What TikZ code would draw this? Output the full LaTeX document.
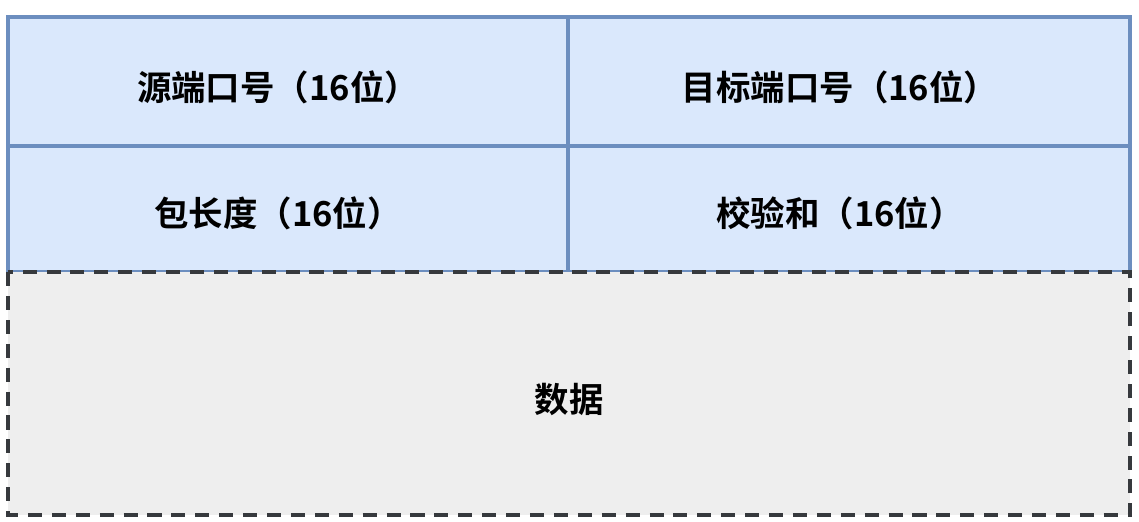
\documentclass[tikz,border=0pt]{standalone}
\usepackage{fontspec}
\setmainfont{Noto Sans CJK SC}[BoldFont={* Bold}]
\definecolor{cellfill}{HTML}{DAE8FC}
\definecolor{celldraw}{HTML}{6C8EBF}
\definecolor{datafill}{HTML}{EEEEEE}
\definecolor{datadraw}{HTML}{36393D}
\tikzset{
    cell/.style={fill=cellfill, draw=celldraw, line width=2.4pt},
    datacell/.style={fill=datafill, draw=datadraw, line width=2.4pt, dash pattern=on 10pt off 7pt},
    celltext/.style={font=\bfseries\fontsize{24.5}{28}\selectfont}
}
\begin{document}
\begin{tikzpicture}[x=0.025cm, y=-0.025cm]
        \useasboundingbox (0,0) rectangle (1139,521);

        \draw[cell] (8,17) rectangle (568,146);
        \draw[cell] (568,17) rectangle (1130,146);
        \draw[cell] (8,146) rectangle (568,272);
        \draw[cell] (568,146) rectangle (1130,272);
        \draw[datacell] (8,272) rectangle (1130,515);

        \node[celltext] (srcport) at (278,87) {源端口号（16位）};
        \node[celltext] (dstport) at (840,87) {目标端口号（16位）};
        \node[celltext] (length) at (278,213) {包长度（16位）};
        \node[celltext] (checksum) at (840,213) {校验和（16位）};
        \node[celltext] (data) at (569,399) {数据};
    \end{tikzpicture}
\end{document}
